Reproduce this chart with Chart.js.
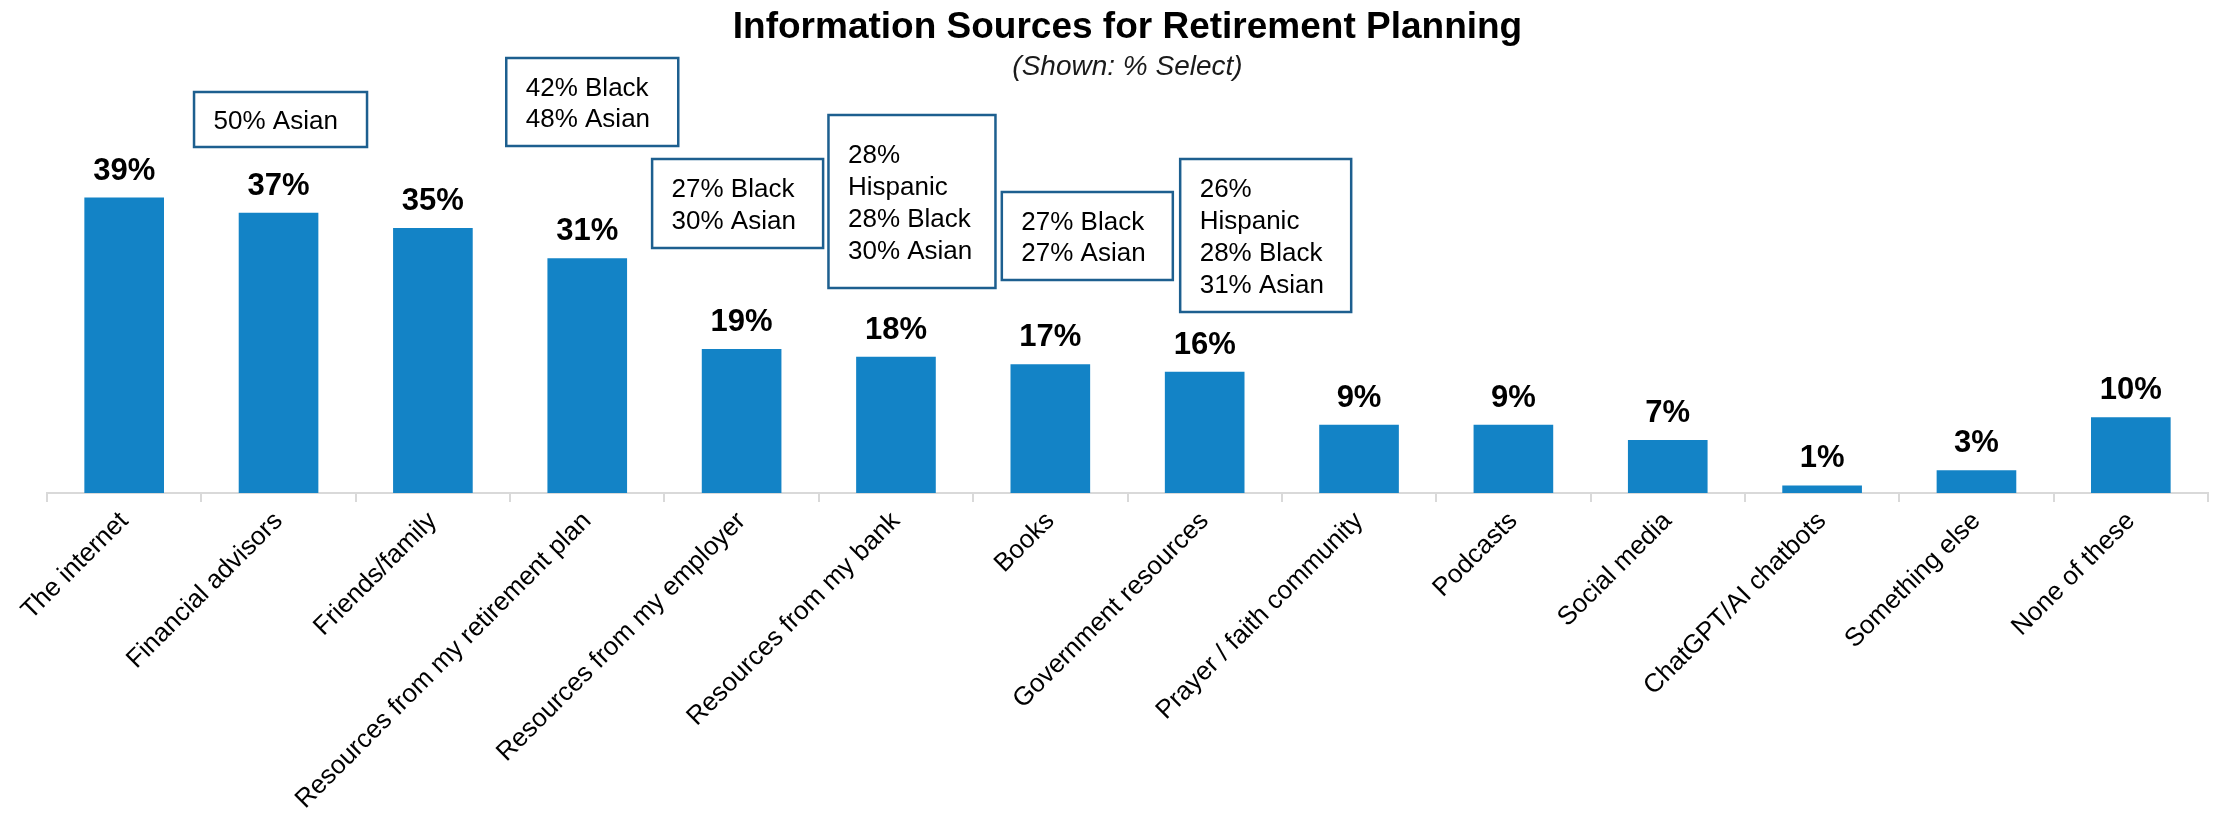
<!DOCTYPE html>
<html><head><meta charset="utf-8">
<script src="https://cdn.jsdelivr.net/npm/chart.js@4.4.1/dist/chart.umd.min.js"></script>
<style>html,body{margin:0;padding:0;background:#fff;}#wrap{width:2218px;height:822px;}</style>
</head><body><div id="wrap"><canvas id="c" width="2218" height="822"></canvas></div>
<script>
const categories = ["The internet","Financial advisors","Friends/family","Resources from my retirement plan","Resources from my employer","Resources from my bank","Books","Government resources","Prayer / faith community","Podcasts","Social media","ChatGPT/AI chatbots","Something else","None of these"];
const values = [39,37,35,31,19,18,17,16,9,9,7,1,3,10];
const calloutCategories = [1,3,4,5,6,7];
const calloutTexts = [["50% Asian"],["42% Black","48% Asian"],["27% Black","30% Asian"],["28%","Hispanic","28% Black","30% Asian"],["27% Black","27% Asian"],["26%","Hispanic","28% Black","31% Asian"]];
const titleText = "Information Sources for Retirement Planning";
const subtitleText = "(Shown: % Select)";

// layout of callout boxes (pixel styling, not data)
const calloutLayout = [
  {dx: 2,  top: 92,  h: 55,  w: 173},
  {dx: 5,  top: 58,  h: 88,  w: 172},
  {dx: -4, top: 159, h: 89,  w: 171},
  {dx: 16, top: 115, h: 173, w: 167},
  {dx: 37, top: 192, h: 88,  w: 171},
  {dx: 61, top: 159, h: 153, w: 171}
];
const FONT = "'Liberation Sans', Arial, sans-serif";

const valueLabels = {
  id: 'valueLabels',
  afterDatasetsDraw(chart) {
    const ctx = chart.ctx;
    const meta = chart.getDatasetMeta(0);
    ctx.save();
    ctx.font = "bold 31px " + FONT;
    ctx.fillStyle = '#000';
    ctx.textAlign = 'center';
    ctx.textBaseline = 'alphabetic';
    meta.data.forEach((el, i) => {
      ctx.fillText(values[i] + '%', el.x, el.y - 18);
    });
    ctx.restore();
  }
};

const callouts = {
  id: 'callouts',
  afterDraw(chart) {
    const ctx = chart.ctx;
    const xs = chart.scales.x;
    ctx.save();
    calloutCategories.forEach((cat, k) => {
      const L = calloutLayout[k];
      const cx = xs.getPixelForValue(cat) + L.dx;
      const x = cx - L.w / 2;
      ctx.fillStyle = '#fff';
      ctx.fillRect(x, L.top, L.w, L.h);
      ctx.lineWidth = 2.5;
      ctx.strokeStyle = '#1d5f8f';
      ctx.strokeRect(x, L.top, L.w, L.h);
      ctx.fillStyle = '#000';
      ctx.font = "26px " + FONT;
      ctx.textAlign = 'left';
      ctx.textBaseline = 'alphabetic';
      const lines = calloutTexts[k];
      const mid = L.top + L.h / 2;
      const lh = 31.7;
      lines.forEach((t, i) => {
        const by = mid + 9.5 + (i - (lines.length - 1) / 2) * lh;
        ctx.fillText(t, x + 19.5, by);
      });
    });
    ctx.restore();
  }
};

new Chart(document.getElementById('c').getContext('2d'), {
  type: 'bar',
  data: {
    labels: categories,
    datasets: [{
      data: values,
      backgroundColor: '#1383C6',
      categoryPercentage: 1,
      barPercentage: 0.516
    }]
  },
  options: {
    responsive: false,
    animation: false,
    devicePixelRatio: 1,
    layout: { padding: { left: 47, right: 10, top: 0, bottom: 0 } },
    plugins: {
      legend: { display: false },
      tooltip: { enabled: false },
      title: {
        display: true, text: titleText, color: '#000',
        font: { family: FONT, size: 37, weight: 'bold' },
        padding: { top: 6, bottom: 0 }
      },
      subtitle: {
        display: true, text: subtitleText, color: '#1a1a1a',
        font: { family: FONT, size: 28, style: 'italic' },
        padding: { top: 0, bottom: 0 }
      }
    },
    scales: {
      x: {
        grid: { display: true, drawOnChartArea: false, drawTicks: true, tickLength: 9, color: '#d9d9d9', lineWidth: 2, offset: true },
        border: { display: true, color: '#d9d9d9', width: 2 },
        ticks: {
          maxRotation: 45, minRotation: 45, autoSkip: false, color: '#000', padding: 4,
          font: { family: FONT, size: 26 }
        },
        afterFit(scale) { scale.paddingLeft = 0; scale.paddingRight = 0; scale.height = 329; }
      },
      y: { display: false, min: 0, max: 54 }
    }
  },
  plugins: [valueLabels, callouts]
});
</script></body></html>
